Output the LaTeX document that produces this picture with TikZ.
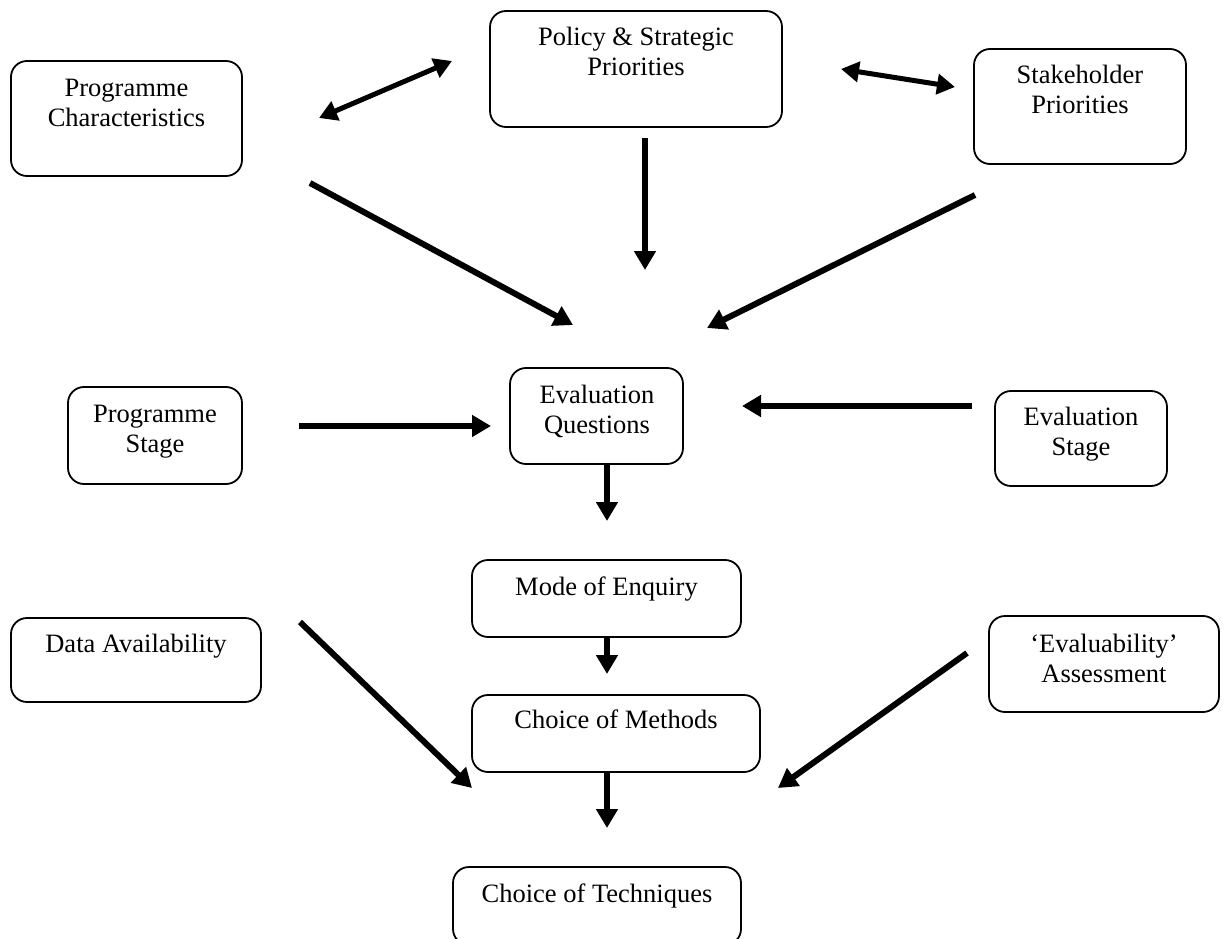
\documentclass[tikz,border=0pt]{standalone}
\usepackage{fontspec}
\setmainfont{Liberation Serif}
\usetikzlibrary{arrows.meta}
\begin{document}
\begin{tikzpicture}[x=1pt,y=-1pt,
  box/.style={draw, line width=1.8pt, rounded corners=16pt, inner sep=0pt},
  lbl/.style={anchor=base, inner sep=0pt, font=\fontsize{26.5}{30}\selectfont},
  flow/.style={line width=6pt, -{Triangle[length=19pt,width=21pt]}},
  twoway/.style={line width=5pt, {Triangle[length=18pt,width=20pt]}-{Triangle[length=18pt,width=20pt]}}]
\useasboundingbox (0,0) rectangle (1232,939);
\clip (0,0) rectangle (1232,939);

% boxes
\node[box, minimum width=231pt, minimum height=115pt] (pc)  at (126.5,118.5) {};
\node[box, minimum width=292pt, minimum height=116pt] (psp) at (636,69) {};
\node[box, minimum width=212pt, minimum height=115pt] (sp)  at (1080,106.5) {};
\node[box, minimum width=174pt, minimum height=97pt]  (ps)  at (155,435.5) {};
\node[box, minimum width=173pt, minimum height=96pt]  (eq)  at (596.5,416) {};
\node[box, minimum width=172pt, minimum height=95pt]  (es)  at (1081,438.5) {};
\node[box, minimum width=269pt, minimum height=77pt]  (moe) at (606.5,598.5) {};
\node[box, minimum width=250pt, minimum height=84pt]  (da)  at (136,660) {};
\node[box, minimum width=230pt, minimum height=96pt]  (ea)  at (1104,664) {};
\node[box, minimum width=288pt, minimum height=77pt]  (com) at (616,733.5) {};
\node[box, minimum width=288pt, minimum height=78pt]  (cot) at (597,906) {};

% labels (first baseline)
\node[lbl] (pcT)  at (126.5,97) {\begin{tabular}[t]{@{}c@{}}Programme\\Characteristics\end{tabular}};
\node[lbl] (pspT) at (636,46) {\begin{tabular}[t]{@{}c@{}}Policy \& Strategic\\Priorities\end{tabular}};
\node[lbl] (spT)  at (1080,84) {\begin{tabular}[t]{@{}c@{}}Stakeholder\\Priorities\end{tabular}};
\node[lbl] (psT)  at (155,422) {\begin{tabular}[t]{@{}c@{}}Programme\\Stage\end{tabular}};
\node[lbl] (eqT)  at (597,403) {\begin{tabular}[t]{@{}c@{}}Evaluation\\Questions\end{tabular}};
\node[lbl] (esT)  at (1081,425) {\begin{tabular}[t]{@{}c@{}}Evaluation\\Stage\end{tabular}};
\node[lbl] (moeT) at (606.5,595) {Mode of Enquiry};
\node[lbl] (daT)  at (136,652) {Data Availability};
\node[lbl] (eaT)  at (1104,652) {\begin{tabular}[t]{@{}c@{}}‘Evaluability’\\Assessment\end{tabular}};
\node[lbl] (comT) at (616,728) {Choice of Methods};
\node[lbl] (cotT) at (597,902) {Choice of Techniques};

% connector end points
\coordinate (c1a) at (319,118);  \coordinate (c1b) at (452,61);
\coordinate (c2a) at (841,69);   \coordinate (c2b) at (955,87);
\coordinate (c3a) at (645,138);  \coordinate (c3b) at (645,270);
\coordinate (c4a) at (310,183);  \coordinate (c4b) at (573,325);
\coordinate (c5a) at (975,195);  \coordinate (c5b) at (707,328);
\coordinate (c6a) at (299,426);  \coordinate (c6b) at (491,426);
\coordinate (c7a) at (972,406);  \coordinate (c7b) at (742,406);
\coordinate (c8a) at (607,464);  \coordinate (c8b) at (607,521);
\coordinate (c9a) at (607,637);  \coordinate (c9b) at (607,674);
\coordinate (c10a) at (607,772); \coordinate (c10b) at (607,828);
\coordinate (c11a) at (300,622); \coordinate (c11b) at (472,788);
\coordinate (c12a) at (967,653); \coordinate (c12b) at (778,788);

% connectors
\draw[twoway] (c1a) -- (c1b);
\draw[twoway] (c2a) -- (c2b);
\draw[flow] (c3a) -- (c3b);
\draw[flow] (c4a) -- (c4b);
\draw[flow] (c5a) -- (c5b);
\draw[flow] (c6a) -- (c6b);
\draw[flow] (c7a) -- (c7b);
\draw[flow] (c8a) -- (c8b);
\draw[flow] (c9a) -- (c9b);
\draw[flow] (c10a) -- (c10b);
\draw[flow] (c11a) -- (c11b);
\draw[flow] (c12a) -- (c12b);
\end{tikzpicture}
\end{document}
